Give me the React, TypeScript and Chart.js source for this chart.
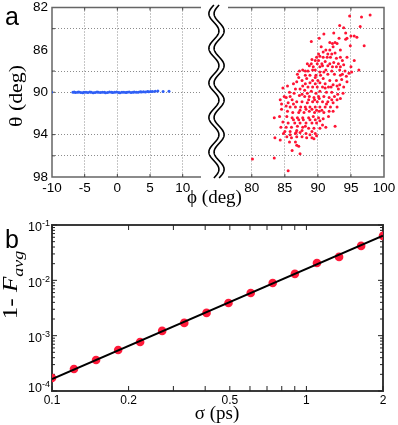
import React, { useEffect, useRef } from 'react';
import { Chart, registerables } from 'chart.js';

Chart.register(...registerables);

// ---------- Panel a : tick values ----------
const phiLeftTicks = [-10, -5, 0, 5, 10];
const phiLeftGrid = [-5, 0, 5, 10];
const phiRightTicks = [80, 85, 90, 95, 100];
const phiRightGrid = [80, 85, 90, 95];
const thetaTicks = [82, 84, 86, 88, 90, 92, 94, 96, 98];
const thetaLabelTicks = [82, 86, 90, 94, 98];
const thetaGridTicks = [84, 88, 90, 94, 96];

// ---------- Panel a : blue points (left part, phi near 0) ----------
const bluePhi = [-10.1, -6.8, -6.6, -6.4, -6.1, -5.9, -5.6, -5.3, -5.1, -4.8, -4.5, -4.2, -4.0, -3.7, -3.4, -3.1, -2.9, -2.6, -2.3, -2.0, -1.8, -1.5, -1.2, -0.9, -0.7, -0.4, -0.1, 0.2, 0.4, 0.7, 1.0, 1.3, 1.5, 1.8, 2.1, 2.4, 2.6, 2.9, 3.2, 3.5, 3.7, 4.0, 4.3, 4.6, 4.8, 5.1, 5.4, 5.8, 6.2, 7.0, 7.9];
const blueTheta = [90.0, 90.0, 89.98, 90.03, 90.0, 89.97, 90.02, 90.04, 89.99, 90.01, 90.03, 89.98, 90.0, 90.04, 90.02, 89.97, 90.01, 90.03, 89.99, 90.0, 90.04, 90.02, 89.98, 90.01, 90.03, 90.0, 89.97, 90.02, 90.04, 89.99, 90.01, 90.03, 90.0, 89.98, 90.02, 90.01, 89.97, 90.0, 89.99, 89.96, 89.98, 89.95, 89.97, 89.93, 89.96, 89.92, 89.94, 89.9, 89.88, 89.92, 89.9];

// ---------- Panel a : red points (right part, phi near 90) [phi, theta] ----------
const redPoints: [number, number][] = [
  [97.9, 82.7], [96.6, 82.9], [94.8, 82.8], [96.4, 83.8], [93.3, 83.7], [90.9, 84.5], [92.4, 84.4], [93.9, 83.9],
  [94.2, 84.4], [95.5, 84.7], [95.0, 84.7], [94.4, 84.9], [94.2, 85.0], [97.0, 85.6], [93.2, 84.9], [89.0, 85.2],
  [90.2, 84.9], [92.6, 85.3], [92.2, 85.4], [91.8, 85.3], [92.9, 85.4], [93.4, 86.0], [91.2, 86.0], [90.8, 86.2],
  [92.1, 86.4], [92.6, 86.3], [91.5, 86.4], [90.1, 86.4], [94.4, 86.7], [95.5, 87.0], [93.7, 87.0], [93.4, 86.7],
  [92.8, 86.8], [90.1, 87.0], [91.1, 87.1], [89.6, 87.0], [89.0, 87.3], [88.4, 87.3], [89.9, 87.3], [90.6, 87.3],
  [91.8, 87.3], [92.4, 87.2], [93.1, 87.3], [93.9, 87.4], [95.0, 87.6], [96.2, 87.9], [92.8, 87.6], [91.5, 87.5],
  [90.7, 87.5], [89.3, 87.6], [88.7, 87.5], [87.7, 87.9], [87.2, 88.0], [88.1, 88.0], [88.5, 88.0], [89.2, 87.9],
  [90.3, 88.1], [90.9, 88.1], [92.1, 88.0], [93.3, 87.9], [94.1, 88.0], [94.7, 88.2], [93.7, 88.3], [92.5, 88.3],
  [91.5, 88.3], [90.4, 88.4], [89.7, 88.4], [88.8, 88.4], [88.1, 88.4], [86.9, 88.3], [88.3, 88.7], [89.2, 88.9],
  [90.0, 88.9], [90.8, 88.7], [90.3, 89.1], [89.6, 89.2], [91.1, 89.2], [91.8, 88.9], [92.8, 88.9], [93.6, 88.8],
  [94.4, 89.0], [93.3, 89.3], [92.3, 89.3], [91.6, 89.5], [90.7, 89.5], [89.9, 89.5], [89.2, 89.5], [88.5, 89.5],
  [87.7, 89.4], [86.8, 89.0], [86.3, 89.2], [85.4, 89.4], [84.7, 89.6], [87.3, 89.7], [88.0, 89.8], [89.0, 89.9],
  [89.7, 90.1], [90.3, 89.9], [91.3, 90.0], [92.1, 90.0], [93.1, 89.7], [93.8, 90.1], [92.5, 90.4], [91.7, 90.5],
  [90.9, 90.4], [90.1, 90.4], [89.4, 90.5], [88.7, 90.4], [88.0, 90.4], [87.2, 90.3], [86.4, 90.1], [85.8, 90.4],
  [85.2, 90.5], [84.3, 90.7], [86.1, 90.7], [86.8, 90.9], [87.6, 90.9], [88.4, 91.0], [89.2, 90.9], [89.9, 90.9],
  [90.7, 90.9], [91.5, 90.9], [92.3, 91.0], [92.9, 90.7], [93.4, 90.6], [92.9, 91.4], [91.9, 91.4], [91.1, 91.4],
  [90.3, 91.4], [89.6, 91.4], [88.8, 91.4], [88.1, 91.4], [87.4, 91.4], [86.6, 91.4], [85.8, 91.4], [85.2, 91.3],
  [84.5, 91.6], [85.4, 91.8], [86.2, 91.9], [87.1, 91.9], [87.9, 91.9], [88.7, 91.8], [89.5, 91.9], [90.2, 91.8],
  [90.9, 91.9], [91.7, 91.8], [92.3, 91.8], [91.6, 92.3], [90.8, 92.5], [90.1, 92.4], [89.3, 92.3], [88.6, 92.4],
  [87.7, 92.4], [86.9, 92.4], [86.1, 92.4], [85.3, 92.3], [84.2, 92.3], [83.4, 92.4], [84.7, 92.8], [85.5, 92.9],
  [86.5, 92.9], [87.3, 92.9], [88.2, 92.9], [89.1, 92.9], [89.8, 92.9], [90.7, 93.1], [92.6, 93.2], [91.2, 93.3],
  [90.3, 93.4], [89.4, 93.4], [88.6, 93.4], [87.7, 93.3], [86.9, 93.2], [86.0, 93.3], [85.2, 93.3], [84.4, 93.3],
  [85.8, 93.7], [86.7, 93.8], [87.3, 93.8], [88.2, 93.9], [89.1, 93.7], [89.6, 93.9], [89.8, 94.1], [89.1, 94.3],
  [88.3, 94.3], [87.6, 94.2], [86.8, 94.2], [86.0, 94.3], [85.3, 94.2], [84.3, 94.5], [83.5, 94.3], [85.7, 94.7],
  [86.6, 94.7], [86.8, 95.0], [87.1, 95.1], [86.1, 95.5], [87.3, 95.8], [80.1, 96.3], [83.4, 96.2], [85.5, 97.4],
  [89.4, 94.4], [84.8, 93.9], [84.9, 90.4], [85.7, 90.0], [86.6, 89.7], [87.6, 90.2], [88.4, 90.1], [88.1, 89.2],
  [88.8, 89.1], [87.6, 88.9], [87.1, 88.6], [89.6, 88.6], [90.3, 87.6], [91.2, 87.9], [92.2, 87.6], [93.4, 87.6],
  [91.9, 86.7], [91.4, 86.7], [90.8, 86.7], [90.3, 86.6], [91.8, 86.0], [90.5, 85.7], [89.8, 86.7], [89.1, 86.9],
  [92.3, 85.7], [94.9, 85.6], [95.9, 84.8], [89.6, 87.9], [88.6, 90.7], [89.5, 90.7], [90.2, 90.6], [91.1, 89.6],
  [92.0, 89.5], [92.9, 89.4], [93.9, 89.5], [93.4, 88.4], [94.3, 88.5], [95.1, 88.1], [93.0, 90.2], [92.1, 90.7],
  [86.3, 91.1], [85.5, 91.0], [84.5, 91.1], [87.3, 91.7], [88.2, 91.6], [89.1, 91.6], [89.8, 91.7], [90.6, 91.7],
  [91.3, 91.1], [87.8, 92.6], [87.1, 92.6], [86.3, 92.6], [88.8, 92.6], [89.6, 92.6], [90.3, 92.7], [86.8, 93.6],
  [87.6, 93.6], [88.1, 93.2], [85.8, 94.0], [86.6, 93.9], [85.0, 93.7], [88.8, 94.0],
];

// ---------- Panel b ----------
const sigma = [0.1, 0.122, 0.149, 0.182, 0.222, 0.271, 0.331, 0.405, 0.494, 0.604, 0.737, 0.901, 1.1, 1.344, 1.641, 2.0];
const infidelity = [1.72e-4, 2.5e-4, 3.64e-4, 5.51e-4, 7.69e-4, 1.22e-3, 1.7e-3, 2.58e-3, 3.9e-3, 5.92e-3, 8.97e-3, 1.31e-2, 2.06e-2, 2.65e-2, 4.19e-2, 6.35e-2];
const fitSigma = [0.1, 2];
const fitInfidelity = [1.65e-4, 6.4e-2];
const sigmaTicks = [0.1, 0.2, 0.5, 1, 2];
const sigmaMinorTicks = [0.3, 0.4, 0.6, 0.7, 0.8, 0.9];
const infidelityDecades = [1e-4, 1e-3, 1e-2, 1e-1];
const infidelityExponents = ['-4', '-3', '-2', '-1'];
const infidelityMinorTicks = [
  2e-4, 3e-4, 4e-4, 5e-4, 6e-4, 7e-4, 8e-4, 9e-4,
  2e-3, 3e-3, 4e-3, 5e-3, 6e-3, 7e-3, 8e-3, 9e-3,
  2e-2, 3e-2, 4e-2, 5e-2, 6e-2, 7e-2, 8e-2, 9e-2,
];

const SANS = '"Liberation Sans", Arial, Helvetica, sans-serif';
const SERIF = '"Liberation Serif", "Times New Roman", "DejaVu Serif", serif';
const GRID = '#8c8c8c';
const NONE = 'rgba(0,0,0,0)';

function fixAxis(size: number, horizontal: boolean) {
  return (scale: any) => {
    if (horizontal) scale.height = size;
    else scale.width = size;
    scale.paddingLeft = 0;
    scale.paddingRight = 0;
    scale.paddingTop = 0;
    scale.paddingBottom = 0;
  };
}

function setTicks(values: number[]) {
  return (scale: any) => {
    scale.ticks = values.map((value) => ({ value }));
  };
}

function topFrame(side: 'left' | 'right', gridX: number[]) {
  return {
    id: 'topFrame' + side,
    beforeDatasetsDraw(chart: any) {
      const { ctx, chartArea: a, scales } = chart;
      ctx.save();
      ctx.strokeStyle = '#666';
      ctx.lineWidth = 1.5;
      ctx.beginPath();
      if (side === 'left') {
        ctx.moveTo(a.right, a.top);
        ctx.lineTo(a.left, a.top);
        ctx.lineTo(a.left, a.bottom);
        ctx.lineTo(a.right, a.bottom);
      } else {
        ctx.moveTo(a.left, a.top);
        ctx.lineTo(a.right, a.top);
        ctx.lineTo(a.right, a.bottom);
        ctx.lineTo(a.left, a.bottom);
      }
      ctx.stroke();
      ctx.strokeStyle = '#444';
      ctx.lineWidth = 1;
      ctx.beginPath();
      for (const v of gridX) {
        const x = scales.x.getPixelForValue(v);
        ctx.moveTo(x, a.bottom);
        ctx.lineTo(x, a.bottom - 3);
        ctx.moveTo(x, a.top);
        ctx.lineTo(x, a.top + 3);
      }
      for (const v of thetaGridTicks) {
        const y = scales.y.getPixelForValue(v);
        const x0 = side === 'left' ? a.left : a.right;
        const d = side === 'left' ? 3 : -3;
        ctx.moveTo(x0, y);
        ctx.lineTo(x0 + d, y);
      }
      ctx.stroke();
      ctx.restore();
    },
  };
}

const breakPlugin = {
  id: 'axisBreak',
  afterDraw(chart: any) {
    const { ctx, chartArea: a } = chart;
    const cx = a.left - 11.5;
    const top = a.top - 2.5;
    const bottom = a.bottom + 1;
    const period = (bottom - top) / 5;
    ctx.save();
    ctx.strokeStyle = '#000';
    ctx.lineWidth = 1.6;
    for (const off of [-2.6, 2.6]) {
      ctx.beginPath();
      for (let y = top; y <= bottom + 0.01; y += 0.5) {
        const x = cx + off - 5 * Math.sin((2 * Math.PI * (y - top)) / period);
        if (y === top) ctx.moveTo(x, y);
        else ctx.lineTo(x, y);
      }
      ctx.stroke();
    }
    ctx.restore();
  },
};

const bottomFrame = {
  id: 'bottomFrame',
  beforeDatasetsDraw(chart: any) {
    const { ctx, chartArea: a, scales } = chart;
    const xs = scales.x;
    const ys = scales.y;
    ctx.save();
    ctx.strokeStyle = '#3a3a3a';
    ctx.lineWidth = 2;
    ctx.strokeRect(a.left, a.top, a.right - a.left, a.bottom - a.top);
    ctx.strokeStyle = '#222';
    ctx.lineWidth = 1;
    ctx.beginPath();
    for (const v of [...sigmaTicks, ...sigmaMinorTicks]) {
      const px = xs.getPixelForValue(v);
      ctx.moveTo(px, a.bottom);
      ctx.lineTo(px, a.bottom - 5);
      ctx.moveTo(px, a.top);
      ctx.lineTo(px, a.top + 5);
    }
    for (const v of infidelityMinorTicks) {
      const py = ys.getPixelForValue(v);
      ctx.moveTo(a.left, py);
      ctx.lineTo(a.left + 3, py);
      ctx.moveTo(a.right, py);
      ctx.lineTo(a.right - 3, py);
    }
    for (const v of infidelityDecades) {
      const py = ys.getPixelForValue(v);
      ctx.moveTo(a.left, py);
      ctx.lineTo(a.left + 5, py);
      ctx.moveTo(a.right, py);
      ctx.lineTo(a.right - 5, py);
    }
    ctx.stroke();
    ctx.restore();
  },
  afterDraw(chart: any) {
    const { ctx, chartArea: a, scales } = chart;
    const ys = scales.y;
    ctx.save();
    ctx.fillStyle = '#000';
    ctx.textBaseline = 'middle';
    ctx.textAlign = 'right';
    const xr = a.left - 2;
    infidelityDecades.forEach((v, i) => {
      const py = ys.getPixelForValue(v);
      const last = i === 0;
      const exp = infidelityExponents[i];
      ctx.font = `9px ${SANS}`;
      const w = ctx.measureText(exp).width;
      ctx.fillText(exp, xr, last ? py - 6 : py - 1);
      ctx.font = `12.5px ${SANS}`;
      ctx.fillText('10', xr - w, last ? py - 2.5 : py + 3);
    });
    ctx.restore();
  },
};

export default function App() {
  const refA = useRef<HTMLCanvasElement>(null);
  const refB = useRef<HTMLCanvasElement>(null);
  const refC = useRef<HTMLCanvasElement>(null);

  useEffect(() => {
    const tickFont = { family: SANS, size: 13.5 };
    const common: any = {
      animation: false,
      responsive: false,
      events: [],
      plugins: { legend: { display: false }, tooltip: { enabled: false } },
    };

    const chartA = new Chart(refA.current!, {
      type: 'scatter',
      data: {
        datasets: [
          {
            data: bluePhi.map((x, i) => ({ x, y: blueTheta[i] })),
            pointBackgroundColor: '#2f5ff5',
            pointBorderWidth: 0,
            pointRadius: 1.5,
          },
        ],
      },
      options: {
        ...common,
        layout: { padding: { top: 7.5, right: 0, bottom: 0, left: 0 } },
        scales: {
          x: {
            type: 'linear',
            min: -10,
            max: 12.8,
            afterBuildTicks: setTicks(phiLeftTicks),
            afterFit: fixAxis(23, true),
            ticks: { font: tickFont, color: '#000', padding: 3, maxRotation: 0, autoSkip: false },
            grid: { drawTicks: false, lineWidth: 1, color: (c: any) => (phiLeftGrid.includes(c.tick?.value) ? GRID : NONE) },
            border: { display: false, dash: [1, 2] },
          },
          y: {
            type: 'linear',
            reverse: true,
            min: 82,
            max: 98,
            afterBuildTicks: setTicks(thetaTicks),
            afterFit: fixAxis(52, false),
            ticks: {
              font: tickFont,
              color: '#000',
              padding: 4,
              autoSkip: false,
              callback: (v: any) => (thetaLabelTicks.includes(Number(v)) ? String(v) : ''),
            },
            grid: { drawTicks: false, lineWidth: 1, color: (c: any) => (thetaGridTicks.includes(c.tick?.value) ? GRID : NONE) },
            border: { display: false, dash: [1, 2] },
          },
        },
      } as any,
      plugins: [topFrame('left', phiLeftGrid)],
    });

    const chartB = new Chart(refB.current!, {
      type: 'scatter',
      data: {
        datasets: [
          {
            data: redPoints.map(([x, y]) => ({ x, y })),
            pointBackgroundColor: '#ff1434',
            pointBorderWidth: 0,
            pointRadius: 1.5,
          },
        ],
      },
      options: {
        ...common,
        layout: { padding: { top: 7.5, right: 14, bottom: 0, left: 0 } },
        scales: {
          x: {
            type: 'linear',
            min: 76.4,
            max: 100,
            afterBuildTicks: setTicks(phiRightTicks),
            afterFit: fixAxis(23, true),
            ticks: { font: tickFont, color: '#000', padding: 3, maxRotation: 0, autoSkip: false },
            grid: { drawTicks: false, lineWidth: 1, color: (c: any) => (phiRightGrid.includes(c.tick?.value) ? GRID : NONE) },
            border: { display: false, dash: [1, 2] },
          },
          y: {
            type: 'linear',
            reverse: true,
            min: 82,
            max: 98,
            afterBuildTicks: setTicks(thetaTicks),
            afterFit: fixAxis(23, false),
            ticks: { display: false },
            grid: { drawTicks: false, lineWidth: 1, color: (c: any) => (thetaGridTicks.includes(c.tick?.value) ? GRID : NONE) },
            border: { display: false, dash: [1, 2] },
          },
        },
      } as any,
      plugins: [topFrame('right', phiRightGrid), breakPlugin],
    });

    const chartC = new Chart(refC.current!, {
      type: 'scatter',
      data: {
        datasets: [
          {
            data: fitSigma.map((x, i) => ({ x, y: fitInfidelity[i] })),
            showLine: true,
            borderColor: '#000',
            borderWidth: 2,
            pointRadius: 0,
            order: 0,
          },
          {
            data: sigma.map((x, i) => ({ x, y: infidelity[i] })),
            pointBackgroundColor: '#ff1a3a',
            pointBorderWidth: 0,
            pointRadius: 4.3,
            order: 1,
          },
        ],
      },
      options: {
        ...common,
        layout: { padding: { top: 25, right: 15, bottom: 0, left: 0 } },
        scales: {
          x: {
            type: 'logarithmic',
            min: 0.1,
            max: 2,
            afterBuildTicks: setTicks(sigmaTicks),
            afterFit: fixAxis(34, true),
            ticks: {
              font: { family: SANS, size: 12 },
              color: '#000',
              padding: 2,
              maxRotation: 0,
              autoSkip: false,
              callback: (v: any) => String(v),
            },
            grid: { display: false, drawTicks: false },
            border: { display: false },
          },
          y: {
            type: 'logarithmic',
            min: 1e-4,
            max: 1e-1,
            afterBuildTicks: setTicks(infidelityDecades),
            afterFit: fixAxis(52, false),
            ticks: { display: false },
            grid: { display: false, drawTicks: false },
            border: { display: false },
          },
        },
      } as any,
      plugins: [bottomFrame],
    });

    return () => {
      chartA.destroy();
      chartB.destroy();
      chartC.destroy();
    };
  }, []);

  const abs = (extra: React.CSSProperties): React.CSSProperties => ({ position: 'absolute', margin: 0, whiteSpace: 'nowrap', color: '#000', ...extra });

  return (
    <div style={{ position: 'absolute', left: 0, top: 0, width: 398, height: 425, background: '#fff', overflow: 'hidden' }}>
      <canvas ref={refA} width={205} height={200} style={{ position: 'absolute', left: 0, top: 0 }} />
      <canvas ref={refB} width={193} height={200} style={{ position: 'absolute', left: 205, top: 0 }} />
      <canvas ref={refC} width={398} height={225} style={{ position: 'absolute', left: 0, top: 200 }} />

      <div style={abs({ left: 5, top: 4, fontFamily: SANS, fontSize: 25, lineHeight: '25px' })}>a</div>
      <div style={abs({ left: 5, top: 227, fontFamily: SANS, fontSize: 25, lineHeight: '25px' })}>b</div>

      <div
        style={abs({
          left: 14.5,
          top: 96,
          fontFamily: SERIF,
          fontSize: 19,
          lineHeight: '19px',
          transform: 'translate(-50%, -50%) rotate(-90deg) scaleX(1.15)',
        })}
      >
        θ (deg)
      </div>
      <div style={abs({ left: 214.5, top: 187, fontFamily: SERIF, fontSize: 19, lineHeight: '19px', transform: 'translateX(-50%)' })}>
        ϕ (deg)
      </div>
      <div style={abs({ left: 217, top: 403, fontFamily: SERIF, fontSize: 19, lineHeight: '19px', transform: 'translateX(-50%)' })}>
        σ (ps)
      </div>
      <div
        style={abs({
          left: 10,
          top: 285,
          fontFamily: SERIF,
          fontSize: 21,
          lineHeight: '21px',
          transform: 'translate(-50%, -50%) rotate(-90deg) scaleX(1.2)',
        })}
      >
        1- <span style={{ fontStyle: 'italic' }}>F</span>
        <span style={{ fontStyle: 'italic', fontSize: 15, lineHeight: '0px', position: 'relative', top: 6 }}>avg</span>
      </div>
    </div>
  );
}
